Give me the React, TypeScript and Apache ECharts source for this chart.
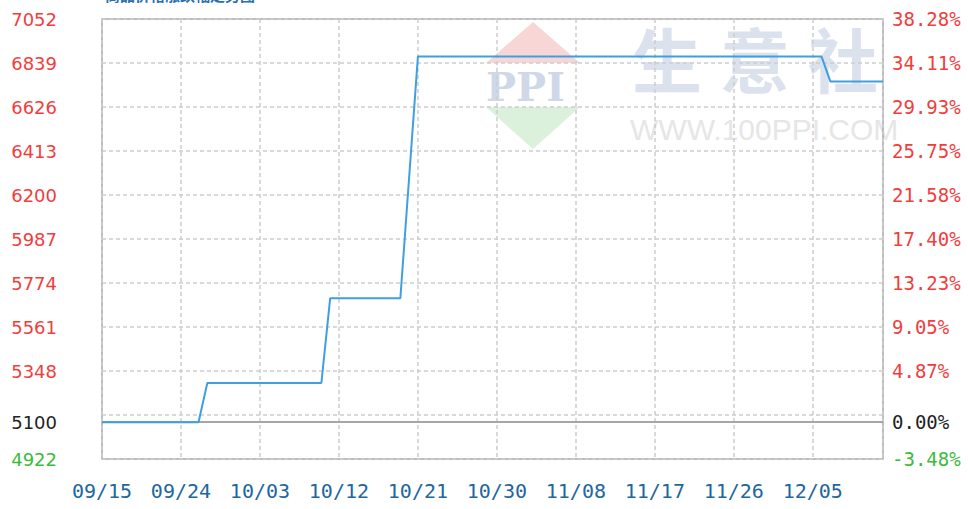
import React, { useEffect, useRef } from 'react';
import * as echarts from 'echarts';

// ---- data ----
const xTickLabels = ['09/15', '09/24', '10/03', '10/12', '10/21', '10/30', '11/08', '11/17', '11/26', '12/05'];
const dayIndex = [0, 11, 12, 25, 26, 34, 36, 82, 83, 89];
const price = [5100, 5100, 5290, 5290, 5700, 5700, 6870, 6870, 6750, 6750];
const leftTickLabels = ['4922', '', '5348', '5561', '5774', '5987', '6200', '6413', '6626', '6839', '7052'];
const rightTickLabels = ['-3.48%', '', '4.87%', '9.05%', '13.23%', '17.40%', '21.58%', '25.75%', '29.93%', '34.11%', '38.28%'];
const baseValue = 5100;
const baseLabel = '5100';
const basePctLabel = '0.00%';
const titleText = '商品价格涨跌幅走势图';

const Y_MIN = 4922;
const Y_MAX = 7052;
const Y_STEP = 213;
const X_MAX = 89;
const X_STEP = 9;

const RED = '#f23d3d';
const GREEN = '#3dbb3d';
const BLACK = '#222222';
const XBLUE = '#21679c';

export default function App() {
  const ref = useRef<HTMLDivElement>(null);
  useEffect(() => {
    if (!ref.current) return;
    const chart = echarts.init(ref.current, undefined, { renderer: 'svg' });
    const leftFont = { fontFamily: 'DejaVu Sans', fontSize: 18 };
    const monoFont = { fontFamily: 'DejaVu Sans Mono', fontSize: 19 };
    const seriesData = dayIndex.map((d, i) => [d, price[i]]);
    const idxOf = (v: number) => Math.round((v - Y_MIN) / Y_STEP);
    const option: any = {
      animation: false,
      backgroundColor: '#ffffff',
      grid: {
        left: 102,
        right: 85,
        top: 19,
        bottom: 50,
        show: true,
        borderColor: '#a8a8a8',
        borderWidth: 1.5,
        backgroundColor: 'transparent',
      },
      graphic: [
        {
          type: 'text', x: 105, y: -13, z: 5,
          style: { text: titleText, fill: '#2a6fae', font: 'bold 15px "Noto Sans CJK SC"' },
        },
        {
          type: 'polygon', z: -1, silent: true,
          shape: { points: [[533, 22], [580, 63], [486, 63]] },
          style: { fill: '#f9d6d6' },
        },
        {
          type: 'polygon', z: -1, silent: true,
          shape: { points: [[486, 107], [580, 107], [533, 149]] },
          style: { fill: '#dcf1dc' },
        },
        {
          type: 'text', x: 486, y: 66, z: -1, silent: true,
          style: { text: 'PPI', fill: '#cfd8e8', font: 'bold 40px "DejaVu Serif"' },
        },
        {
          type: 'text', x: 632, y: 22, z: -1, silent: true,
          style: { text: '生', fill: '#dce2ed', font: 'bold 70px "Noto Sans CJK SC"' },
        },
        {
          type: 'text', x: 720, y: 22, z: -1, silent: true,
          style: { text: '意', fill: '#dce2ed', font: 'bold 70px "Noto Sans CJK SC"' },
        },
        {
          type: 'text', x: 808, y: 22, z: -1, silent: true,
          style: { text: '社', fill: '#dce2ed', font: 'bold 70px "Noto Sans CJK SC"' },
        },
        {
          type: 'text', x: 630, y: 114, z: -1, silent: true,
          style: { text: 'WWW.100PPI.COM', fill: '#e6e6e6', font: '30px "Liberation Sans"' },
        },
      ],
      xAxis: {
        type: 'value',
        min: 0,
        max: X_MAX,
        interval: X_STEP,
        axisLine: { show: false },
        axisTick: { show: false },
        splitLine: { show: true, lineStyle: { color: '#cdcdcd', type: [4, 3], width: 1.5 } },
        axisLabel: {
          showMaxLabel: false,
          margin: 22,
          color: XBLUE,
          ...monoFont,
          fontSize: 20,
          formatter: (v: number) => (v % X_STEP === 0 ? xTickLabels[v / X_STEP] ?? '' : ''),
        },
      },
      yAxis: [
        {
          type: 'value',
          position: 'left',
          min: Y_MIN,
          max: Y_MAX,
          interval: Y_STEP,
          axisLine: { show: false },
          axisTick: { show: false },
          splitLine: { show: true, lineStyle: { color: '#cdcdcd', type: [4, 3], width: 1.5 } },
          axisLabel: {
            margin: 45,
            formatter: (v: number) => {
              const i = idxOf(v);
              const t = leftTickLabels[i] ?? '';
              if (!t) return '';
              return i === 0 ? `{g|${t}}` : `{r|${t}}`;
            },
            rich: {
              r: { color: RED, ...leftFont },
              g: { color: GREEN, ...leftFont },
            },
          },
        },
        {
          type: 'value',
          position: 'right',
          min: Y_MIN,
          max: Y_MAX,
          interval: Y_STEP,
          axisLine: { show: false },
          axisTick: { show: false },
          splitLine: { show: false },
          axisLabel: {
            margin: 9,
            formatter: (v: number) => {
              const i = idxOf(v);
              const t = rightTickLabels[i] ?? '';
              if (!t) return '';
              return i === 0 ? `{g|${t}}` : `{r|${t}}`;
            },
            rich: {
              r: { color: RED, ...monoFont },
              g: { color: GREEN, ...monoFont },
            },
          },
        },
      ],
      series: [
        {
          type: 'line',
          z: 1,
          data: [],
          silent: true,
          markLine: {
            z: 1,
            silent: true,
            symbol: 'none',
            lineStyle: { color: '#a0a0a0', type: 'solid', width: 1.5 },
            data: [
              {
                yAxis: baseValue,
                label: { position: 'start', distance: 45, formatter: baseLabel, color: BLACK, ...leftFont },
              },
              {
                yAxis: baseValue,
                label: { position: 'end', distance: 9, formatter: basePctLabel, color: BLACK, ...monoFont },
              },
            ],
          },
        },
        {
          type: 'line',
          z: 6,
          data: seriesData,
          showSymbol: false,
          symbol: 'none',
          lineStyle: { color: '#3f9fe0', width: 2 },
          silent: true,
        },
      ],
    };
    chart.setOption(option);
    return () => chart.dispose();
  }, []);
  return (
    <div
      ref={ref}
      style={{ position: 'absolute', left: 0, top: 0, width: 968, height: 509 }}
    />
  );
}
